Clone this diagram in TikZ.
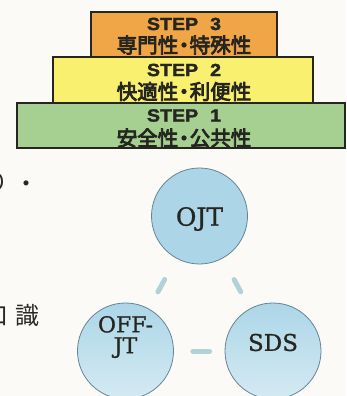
\documentclass[tikz,border=0pt]{standalone}
\usepackage{fontspec}
\setmainfont{DejaVu Serif}
\newfontfamily\jpfont{Noto Sans CJK JP}
\newfontfamily\jpboldfont[FakeBold=4]{Noto Sans CJK JP}
\newfontfamily\stepfont[FakeStretch=1.12,FakeBold=2]{Liberation Sans}
\newfontfamily\bubblefont[FakeBold=1]{DejaVu Serif}
\definecolor{orangebox}{RGB}{240,165,70}
\definecolor{yellowbox}{RGB}{250,240,112}
\definecolor{greenbox}{RGB}{165,208,145}
\definecolor{bubble}{RGB}{172,214,232}
\definecolor{bubblelow}{RGB}{212,234,242}
\definecolor{bubbleedge}{RGB}{100,132,148}
\definecolor{linkblue}{RGB}{178,210,218}
\definecolor{paper}{RGB}{252,250,246}
\definecolor{ink}{RGB}{38,38,32}
\definecolor{textgray}{RGB}{40,40,40}
\tikzset{
  stepbox/.style={draw=ink, line width=1.4pt, inner sep=0pt},
  steplabel/.style={font=\stepfont\bfseries\fontsize{17.5}{17.5}\selectfont, text=ink, inner sep=0pt},
  jplabel/.style={font=\jpboldfont\fontsize{20.5}{20.5}\selectfont, text=ink, inner sep=0pt},
  sidetext/.style={font=\jpfont\fontsize{24}{24}\selectfont, text=textgray, inner sep=0pt},
  bubblenode/.style={circle, draw=bubbleedge, line width=0.8pt, minimum size=96pt, inner sep=0pt},
  bubbletext/.style={font=\bubblefont, text=ink, inner sep=0pt, align=center},
  link/.style={linkblue, line width=5pt, line cap=round},
}
\begin{document}
\begin{tikzpicture}[x=1pt,y=-1pt]
\useasboundingbox (0,0) rectangle (346,396);
\fill[paper] (0,0) rectangle (346,396);
% steps
\node[stepbox, fill=greenbox, minimum width=328pt, minimum height=45pt] (s1) at (181,125.5) {};
\node[stepbox, fill=yellowbox, minimum width=260pt, minimum height=46pt] (s2) at (183,80) {};
\node[stepbox, fill=orangebox, minimum width=186pt, minimum height=45pt] (s3) at (184,34.5) {};
\node[steplabel] (s3t) at (184,24) {STEP\hspace{12pt}3};
\node[jplabel] (s3j) at (184,45) {専門性\kern-4.5pt・\kern-4.5pt特殊性};
\node[steplabel] (s2t) at (184,70) {STEP\hspace{12pt}2};
\node[jplabel] (s2j) at (184,91.5) {快適性\kern-4.5pt・\kern-4.5pt利便性};
\node[steplabel] (s1t) at (184,115.5) {STEP\hspace{12pt}1};
\node[jplabel] (s1j) at (184,138) {安全性\kern-4.5pt・\kern-4.5pt公共性};
% side text
\node[sidetext] (sa) at (-3,183) {り};
\node[sidetext] (sb) at (26,187) {・};
\node[sidetext] (sc) at (-4,316) {口};
\node[sidetext] (sd) at (27.5,315) {識};
% bubbles
\node[bubblenode, fill=bubble] (ojt) at (199.5,216) {};
\node[bubblenode, top color=bubble, bottom color=bubblelow] (offjt) at (125.5,351) {};
\node[bubblenode, top color=bubble, bottom color=bubblelow] (sds) at (273,351) {};
\node[bubbletext, font=\bubblefont\fontsize{25}{25}\selectfont] (ojtt) at (199.5,219) {OJT};
\node[bubbletext, font=\bubblefont\fontsize{22}{21}\selectfont] (offjtt) at (125.5,337) {OFF-\\JT};
\node[bubbletext, font=\bubblefont\fontsize{23}{23}\selectfont] (sdst) at (273,342.5) {SDS};
% links
\draw[link, shorten <=24pt, shorten >=19pt] (ojt) -- (offjt);
\draw[link, shorten <=24pt, shorten >=19pt] (ojt) -- (sds);
\draw[link, shorten <=19pt, shorten >=15pt] (offjt) -- (sds);
\end{tikzpicture}
\end{document}
